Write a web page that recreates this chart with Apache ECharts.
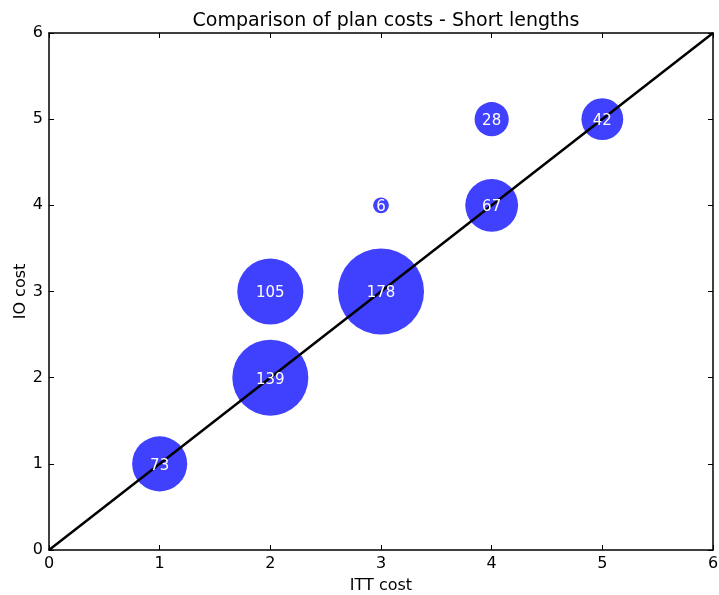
<!DOCTYPE html>
<html>
<head>
<meta charset="utf-8">
<script src="https://cdn.jsdelivr.net/npm/echarts@6/dist/echarts.min.js"></script>
<style>
  html, body { margin: 0; padding: 0; background: #fff; }
  #chart { width: 719px; height: 595px; }
</style>
</head>
<body>
<div id="chart"></div>
<script>
// Plan cost pairs: ITT cost (x), IO cost (y), number of plans (bubble size)
const ittCost = [1, 2, 2, 3, 3, 4, 4, 5];
const ioCost  = [1, 2, 3, 3, 4, 4, 5, 5];
const counts  = [73, 139, 105, 178, 6, 67, 28, 42];
const axisTicks = [0, 1, 2, 3, 4, 5, 6];

const points = ittCost.map((x, i) => [x, ioCost[i], counts[i]]);
const font = 'DejaVu Sans';
const lo = axisTicks[0], hi = axisTicks[axisTicks.length - 1];

const baseAxis = {
  type: 'value', min: lo, max: hi, interval: 1,
  axisLine: { show: true, onZero: false, lineStyle: { color: '#000', width: 1.5 } },
  axisTick: { show: true, inside: true, length: 5, lineStyle: { color: '#000', width: 1 } },
  splitLine: { show: false },
  axisLabel: { color: '#000', fontFamily: font, fontSize: 16 }
};

const chart = echarts.init(document.getElementById('chart'));
chart.setOption({
  animation: false,
  title: {
    text: 'Comparison of plan costs - Short lengths',
    left: 381, top: 7, textAlign: 'center',
    textStyle: { fontFamily: font, fontSize: 19, fontWeight: 'normal', color: '#000' }
  },
  grid: { left: 49, right: 6, top: 33, bottom: 45, containLabel: false, outerBoundsMode: 'none' },
  xAxis: [
    Object.assign({}, baseAxis, {
      position: 'bottom',
      name: 'ITT cost', nameLocation: 'middle', nameGap: 28, nameMoveOverlap: false,
      nameTextStyle: { fontFamily: font, fontSize: 16, color: '#000' },
      axisLabel: Object.assign({}, baseAxis.axisLabel, { margin: 6 })
    }),
    Object.assign({}, baseAxis, { position: 'top', axisLabel: { show: false } })
  ],
  yAxis: [
    Object.assign({}, baseAxis, {
      position: 'left',
      name: 'IO cost', nameLocation: 'middle', nameGap: 20, nameMoveOverlap: false,
      nameTextStyle: { fontFamily: font, fontSize: 16, color: '#000' },
      axisLabel: Object.assign({}, baseAxis.axisLabel, { margin: 6 })
    }),
    Object.assign({}, baseAxis, { position: 'right', axisLabel: { show: false } })
  ],
  series: [
    {
      // bubbles, area proportional to plan count
      type: 'scatter',
      data: points,
      symbolSize: d => 6.45 * Math.sqrt(d[2]),
      itemStyle: { color: '#4040ff', opacity: 1 },
      z: 2
    },
    {
      // y = x reference line
      type: 'line',
      data: [[lo, lo], [hi, hi]],
      showSymbol: false,
      lineStyle: { color: '#000', width: 2.5 },
      z: 3
    },
    {
      // count labels drawn above the diagonal
      type: 'scatter',
      data: points,
      symbolSize: 2,
      itemStyle: { color: 'rgba(0,0,0,0)' },
      label: {
        show: true, position: 'inside', offset: [0, 2],
        formatter: p => String(p.value[2]),
        color: '#ffffff', opacity: 1,
        textBorderWidth: 0, textBorderColor: 'transparent',
        fontFamily: font, fontSize: 15
      },
      z: 4
    }
  ]
});
</script>
</body>
</html>
